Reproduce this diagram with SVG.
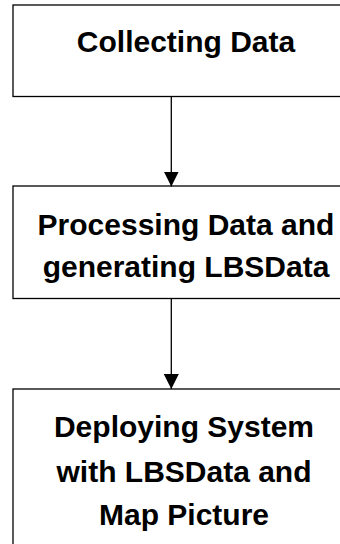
<svg xmlns="http://www.w3.org/2000/svg" width="340" height="544" viewBox="0 0 340 544">
<defs>
<style>
.box{fill:#fff;stroke:#000;stroke-width:1.3}
.t{font-family:"Liberation Sans",Arial,sans-serif;font-weight:bold;font-size:30px;fill:#000;text-anchor:middle}
.c{stroke:#000;stroke-width:1.3;fill:none}
</style>
<marker id="ah" markerWidth="15" markerHeight="15" refX="15" refY="7.5" orient="auto" markerUnits="userSpaceOnUse">
<path d="M0,0 L15,7.5 L0,15 Z" fill="#000"/>
</marker>
</defs>
<rect width="340" height="544" fill="#fff"/>
<g id="n1">
<rect class="box" x="13" y="5" width="340" height="91.5"/>
<text class="t" x="186" y="52">Collecting Data</text>
</g>
<g id="n2">
<rect class="box" x="13" y="186" width="340" height="112.5"/>
<text class="t" x="186" y="235">Processing Data and</text>
<text class="t" x="186" y="277">generating LBSData</text>
</g>
<g id="n3">
<rect class="box" x="13" y="389" width="340" height="170"/>
<text class="t" x="184" y="437">Deploying System</text>
<text class="t" x="184" y="482">with LBSData and</text>
<text class="t" x="184" y="525">Map Picture</text>
</g>
<g id="connectors">
<line class="c" x1="171.3" y1="96.5" x2="171.3" y2="186.5" marker-end="url(#ah)"/>
<line class="c" x1="171.3" y1="298.5" x2="171.3" y2="389" marker-end="url(#ah)"/>
</g>
</svg>
